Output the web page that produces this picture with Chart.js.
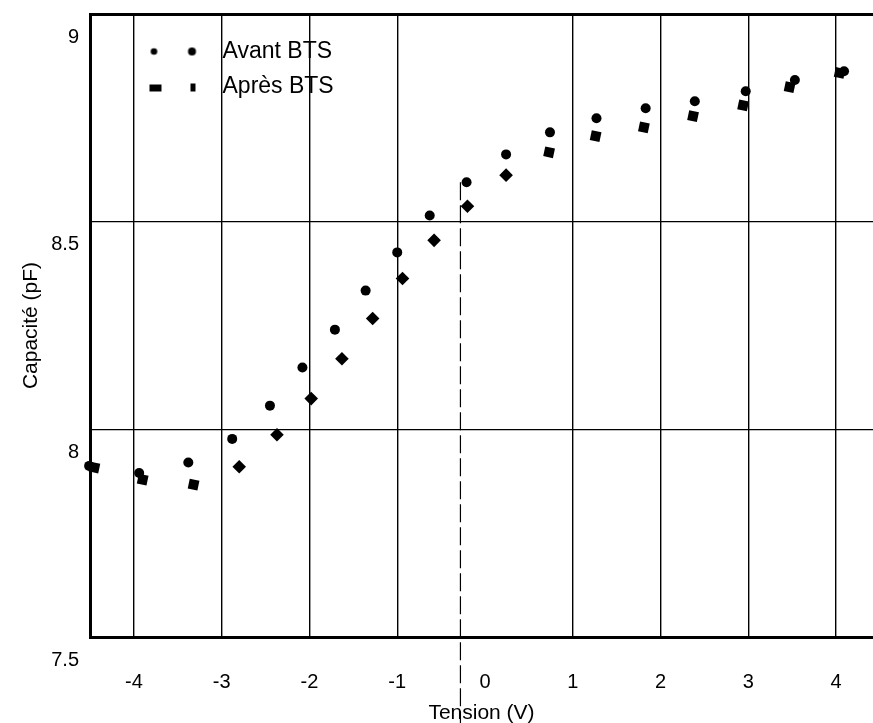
<!DOCTYPE html>
<html><head><meta charset="utf-8">
<script src="https://cdn.jsdelivr.net/npm/chart.js@4"></script>
<style>html,body{margin:0;padding:0;background:#fff}#wrap{width:873px;height:723px}</style>
</head><body><div id="wrap"><canvas id="c" width="873" height="723"></canvas></div>
<script>
// ---- data ----
const seriesNames = ['Avant BTS', 'Après BTS'];
const avantTension  = [-4.51, -3.94, -3.38, -2.88, -2.45, -2.08, -1.71, -1.36, -1.00, -0.63, -0.21, 0.24, 0.74, 1.27, 1.83, 2.39, 2.97, 3.53, 4.09];
const avantCapacite = [7.912, 7.895, 7.920, 7.977, 8.057, 8.149, 8.240, 8.334, 8.426, 8.515, 8.595, 8.662, 8.715, 8.749, 8.773, 8.790, 8.814, 8.841, 8.862];
const apresTension  = [-4.45, -3.90, -3.32, -2.80, -2.37, -1.98, -1.63, -1.28, -0.94, -0.58, -0.20, 0.24, 0.73, 1.26, 1.81, 2.37, 2.94, 3.47, 4.04];
const apresCapacite = [7.908, 7.879, 7.867, 7.910, 7.987, 8.074, 8.170, 8.267, 8.363, 8.455, 8.537, 8.612, 8.667, 8.706, 8.727, 8.754, 8.780, 8.824, 8.858];
const xTicks = [-4, -3, -2, -1, 0, 1, 2, 3, 4];
const yTicks = [7.5, 8, 8.5, 9];
// stray dashed vertical line present in the scanned original
const scanLineTension  = [-0.28, -0.28];
const scanLineCapacite = [8.595, 7.293];

const FONT = '"Liberation Sans", Arial, Helvetica, sans-serif';

function legendIcon(kind) {
  const c = document.createElement('canvas');
  c.width = 84; c.height = 20;
  const g = c.getContext('2d');
  g.fillStyle = '#000';
  if (kind === 0) {
    g.beginPath(); g.arc(39.5, 10, 3.3, 0, Math.PI * 2); g.fill();
    g.beginPath(); g.arc(77.5, 10, 4, 0, Math.PI * 2); g.fill();
  } else {
    g.fillRect(35, 8, 12, 7);
    g.fillRect(76, 7, 5, 8);
  }
  return c;
}
const icons = [legendIcon(0), legendIcon(1)];

const isDiamond = (x) => x > -3.0 && x < 0.5;

new Chart(document.getElementById('c').getContext('2d'), {
  type: 'scatter',
  data: {
    datasets: [
      {
        label: seriesNames[0],
        data: avantTension.map((x, i) => ({ x, y: avantCapacite[i] })),
        pointStyle: 'circle', pointRadius: 5,
        backgroundColor: '#000', borderColor: '#000', borderWidth: 0,
        clip: false
      },
      {
        label: seriesNames[1],
        data: apresTension.map((x, i) => ({ x, y: apresCapacite[i] })),
        pointStyle: (c) => (c.raw && isDiamond(c.raw.x)) ? 'rectRot' : 'rect',
        rotation: (c) => (c.raw && isDiamond(c.raw.x)) ? 0 : 12,
        pointRadius: (c) => (c.raw && isDiamond(c.raw.x)) ? 6.8 : 7,
        backgroundColor: '#000', borderColor: '#000', borderWidth: 0,
        clip: false
      },
      {
        label: '_scan',
        data: scanLineTension.map((x, i) => ({ x, y: scanLineCapacite[i] })),
        showLine: true, pointRadius: 0,
        borderColor: '#000', borderWidth: 1.2, borderDash: [18, 5],
        clip: false
      }
    ]
  },
  options: {
    responsive: false, animation: false, devicePixelRatio: 1,
    layout: { autoPadding: false, padding: { top: 14, right: 0, bottom: 0, left: 0 } },
    plugins: {
      tooltip: { enabled: false },
      legend: {
        position: 'chartArea', align: 'start',
        title: { display: true, text: '', padding: { top: 8, bottom: 8 }, font: { size: 10 } },
        labels: {
          usePointStyle: true, pointStyleWidth: 109, padding: 12,
          color: '#000', font: { family: FONT, size: 23 },
          generateLabels: () => seriesNames.map((t, i) => ({
            text: t, pointStyle: icons[i], datasetIndex: i,
            fillStyle: '#000', strokeStyle: '#000', lineWidth: 0, hidden: false, fontColor: '#000'
          }))
        }
      }
    },
    scales: {
      x: {
        type: 'linear', min: -4.50, max: 4.42,
        afterBuildTicks: (s) => { s.ticks = xTicks.map(v => ({ value: v })); },
        afterFit: (s) => { s.height = 86; s.paddingLeft = 0; s.paddingRight = 0; },
        ticks: { padding: 33, color: '#000', font: { family: FONT, size: 20 }, maxRotation: 0, autoSkip: false, callback: (v) => String(v) },
        grid: {
          drawTicks: false, lineWidth: 1.4,
          color: (c) => (c.tick && c.tick.value === 0) ? 'rgba(0,0,0,0)' : '#000'
        },
        border: { display: true, color: '#000', width: 3 },
        title: { display: true, text: 'Tension (V)', color: '#000', font: { family: FONT, size: 21 }, padding: { top: 0, bottom: -3 } }
      },
      y: {
        type: 'linear', min: 7.5, max: 9,
        afterBuildTicks: (s) => { s.ticks = yTicks.map(v => ({ value: v })); },
        afterFit: (s) => { s.width = 90; s.paddingTop = 0; s.paddingBottom = 0; },
        ticks: { padding: 11, labelOffset: 23, color: '#000', font: { family: FONT, size: 20 }, callback: (v) => String(v) },
        grid: {
          drawTicks: false,
          lineWidth: (c) => (c.tick && c.tick.value === 9) ? 3 : 1.3,
          color: (c) => (c.tick && c.tick.value === 7.5) ? 'rgba(0,0,0,0)' : '#000'
        },
        border: { display: true, color: '#000', width: 3 },
        title: { display: true, text: 'Capacité (pF)', color: '#000', font: { family: FONT, size: 21 }, padding: { top: 19, bottom: 0 } }
      }
    }
  }
});
</script>
</body></html>
